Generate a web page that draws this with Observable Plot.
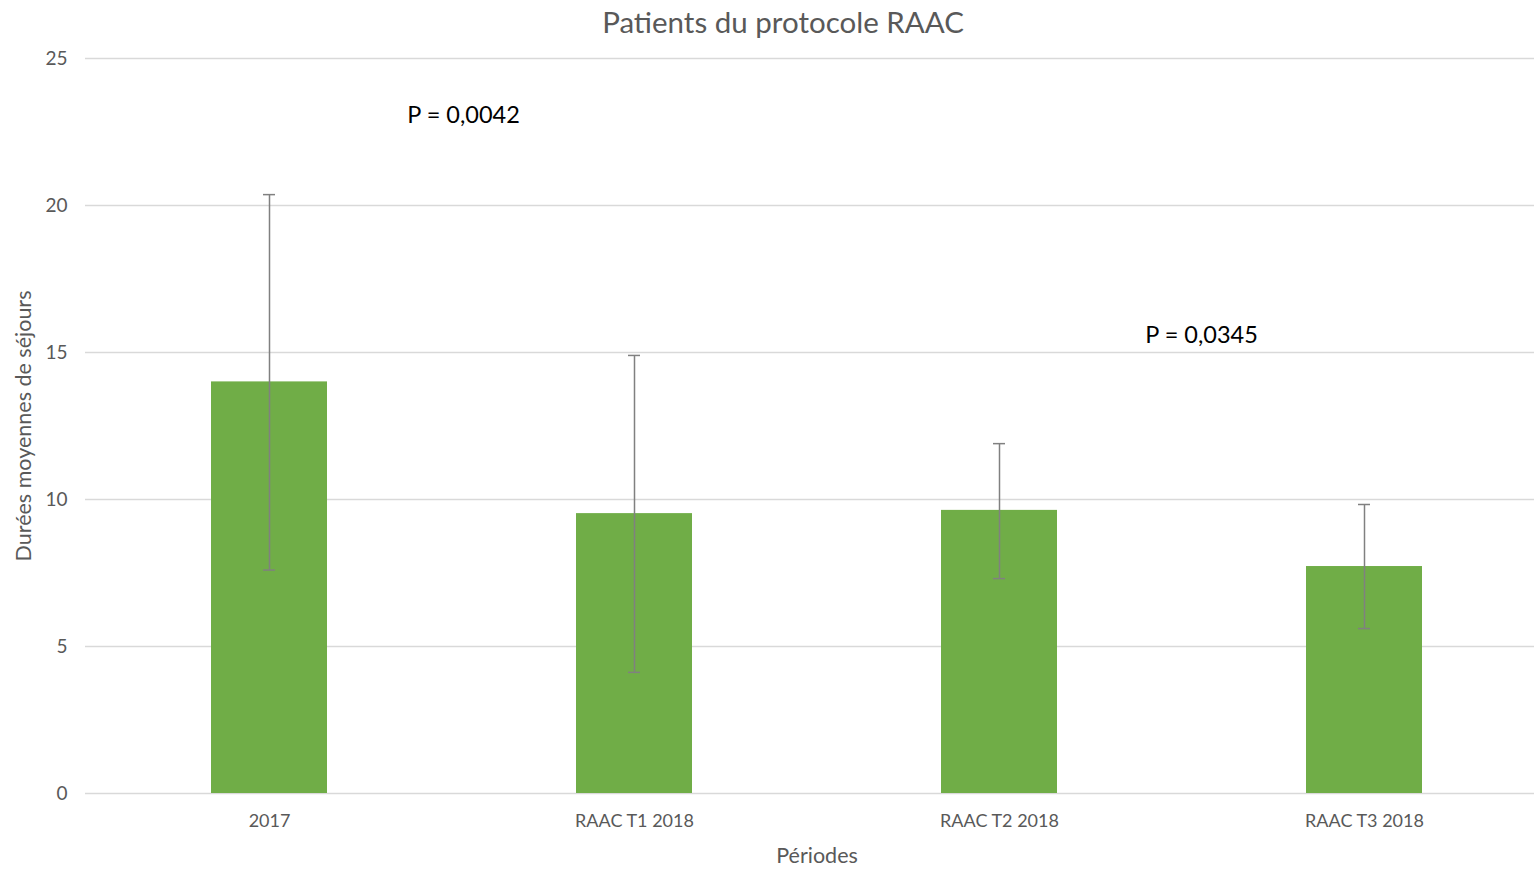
<!DOCTYPE html>
<html>
<head>
<meta charset="utf-8">
<script src="https://cdn.jsdelivr.net/npm/d3@7"></script>
<script src="https://cdn.jsdelivr.net/npm/@observablehq/plot@0.6"></script>
<style>
  body { margin: 0; background: #fff; font-family: Lato, "Open Sans", sans-serif; }
  #title { height: 44px; line-height: 44px; text-align: center; padding-left: 32px; font-size: 29.5px; color: #595959; }
  #chart svg { display: block; }
</style>
</head>
<body>
<div id="title">Patients du protocole RAAC</div>
<div id="chart"></div>
<script>
const periods = ["2017", "RAAC T1 2018", "RAAC T2 2018", "RAAC T3 2018"];
const means = [14.0, 9.52, 9.63, 7.72];
const errLow = [7.6, 4.12, 7.31, 5.61];
const errHigh = [20.37, 14.9, 11.9, 9.83];
const yTicks = [0, 5, 10, 15, 20, 25];
const annotLabels = ["P = 0,0042", "P = 0,0345"];
const annotAt = ["2017", "RAAC T2 2018"];
const annotY = [23.06, 15.58];

const data = periods.map((p, i) => ({period: p, mean: means[i], lo: errLow[i], hi: errHigh[i]}));
const annots = annotLabels.map((t, i) => ({text: t, at: annotAt[i], y: annotY[i]}));

const chart = Plot.plot({
  width: 1534,
  height: 825,
  marginLeft: 85,
  marginRight: 0,
  marginTop: 14,
  marginBottom: 76,
  style: {fontFamily: "Lato, 'Open Sans', sans-serif", fontSize: "18px", color: "#595959", background: "#fff"},
  x: {domain: periods, paddingInner: 0.683, paddingOuter: 0.3235, align: 0.528, label: null},
  y: {domain: [0, 25], ticks: yTicks, label: null},
  marks: [
    Plot.gridY(yTicks, {stroke: "#d9d9d9", strokeOpacity: 1, strokeWidth: 1.3}),
    Plot.axisY(yTicks, {tickSize: 0, tickPadding: 18, fontSize: 19, fill: "#595959", label: null}),
    Plot.axisX({tickSize: 0, tickPadding: 21, fontSize: 18, fill: "#595959", label: null}),
    Plot.barY(data, {x: "period", y: "mean", fill: "#70ad47"}),
    Plot.ruleX(data, {x: "period", y1: "lo", y2: "hi", stroke: "#808080", strokeWidth: 1.5}),
    Plot.tickY(data, {x: "period", y: "lo", stroke: "#808080", strokeWidth: 1.5, insetLeft: 52, insetRight: 52}),
    Plot.tickY(data, {x: "period", y: "hi", stroke: "#808080", strokeWidth: 1.5, insetLeft: 52, insetRight: 52}),
    Plot.text([annots[0]], {x: "at", y: "y", text: "text", dx: 194, fontSize: 23.5, fill: "#000"}),
    Plot.text([annots[1]], {x: "at", y: "y", text: "text", dx: 202, fontSize: 23.5, fill: "#000"}),
    Plot.text(["Durées moyennes de séjours"], {frameAnchor: "left", dx: -61, rotate: -90, textAnchor: "middle", fontSize: 21.5, fill: "#595959"}),
    Plot.text(["Périodes"], {frameAnchor: "bottom", dy: 69, dx: 7, textAnchor: "middle", fontSize: 21.5, fill: "#595959"})
  ]
});
document.getElementById("chart").appendChild(chart);
</script>
</body>
</html>
